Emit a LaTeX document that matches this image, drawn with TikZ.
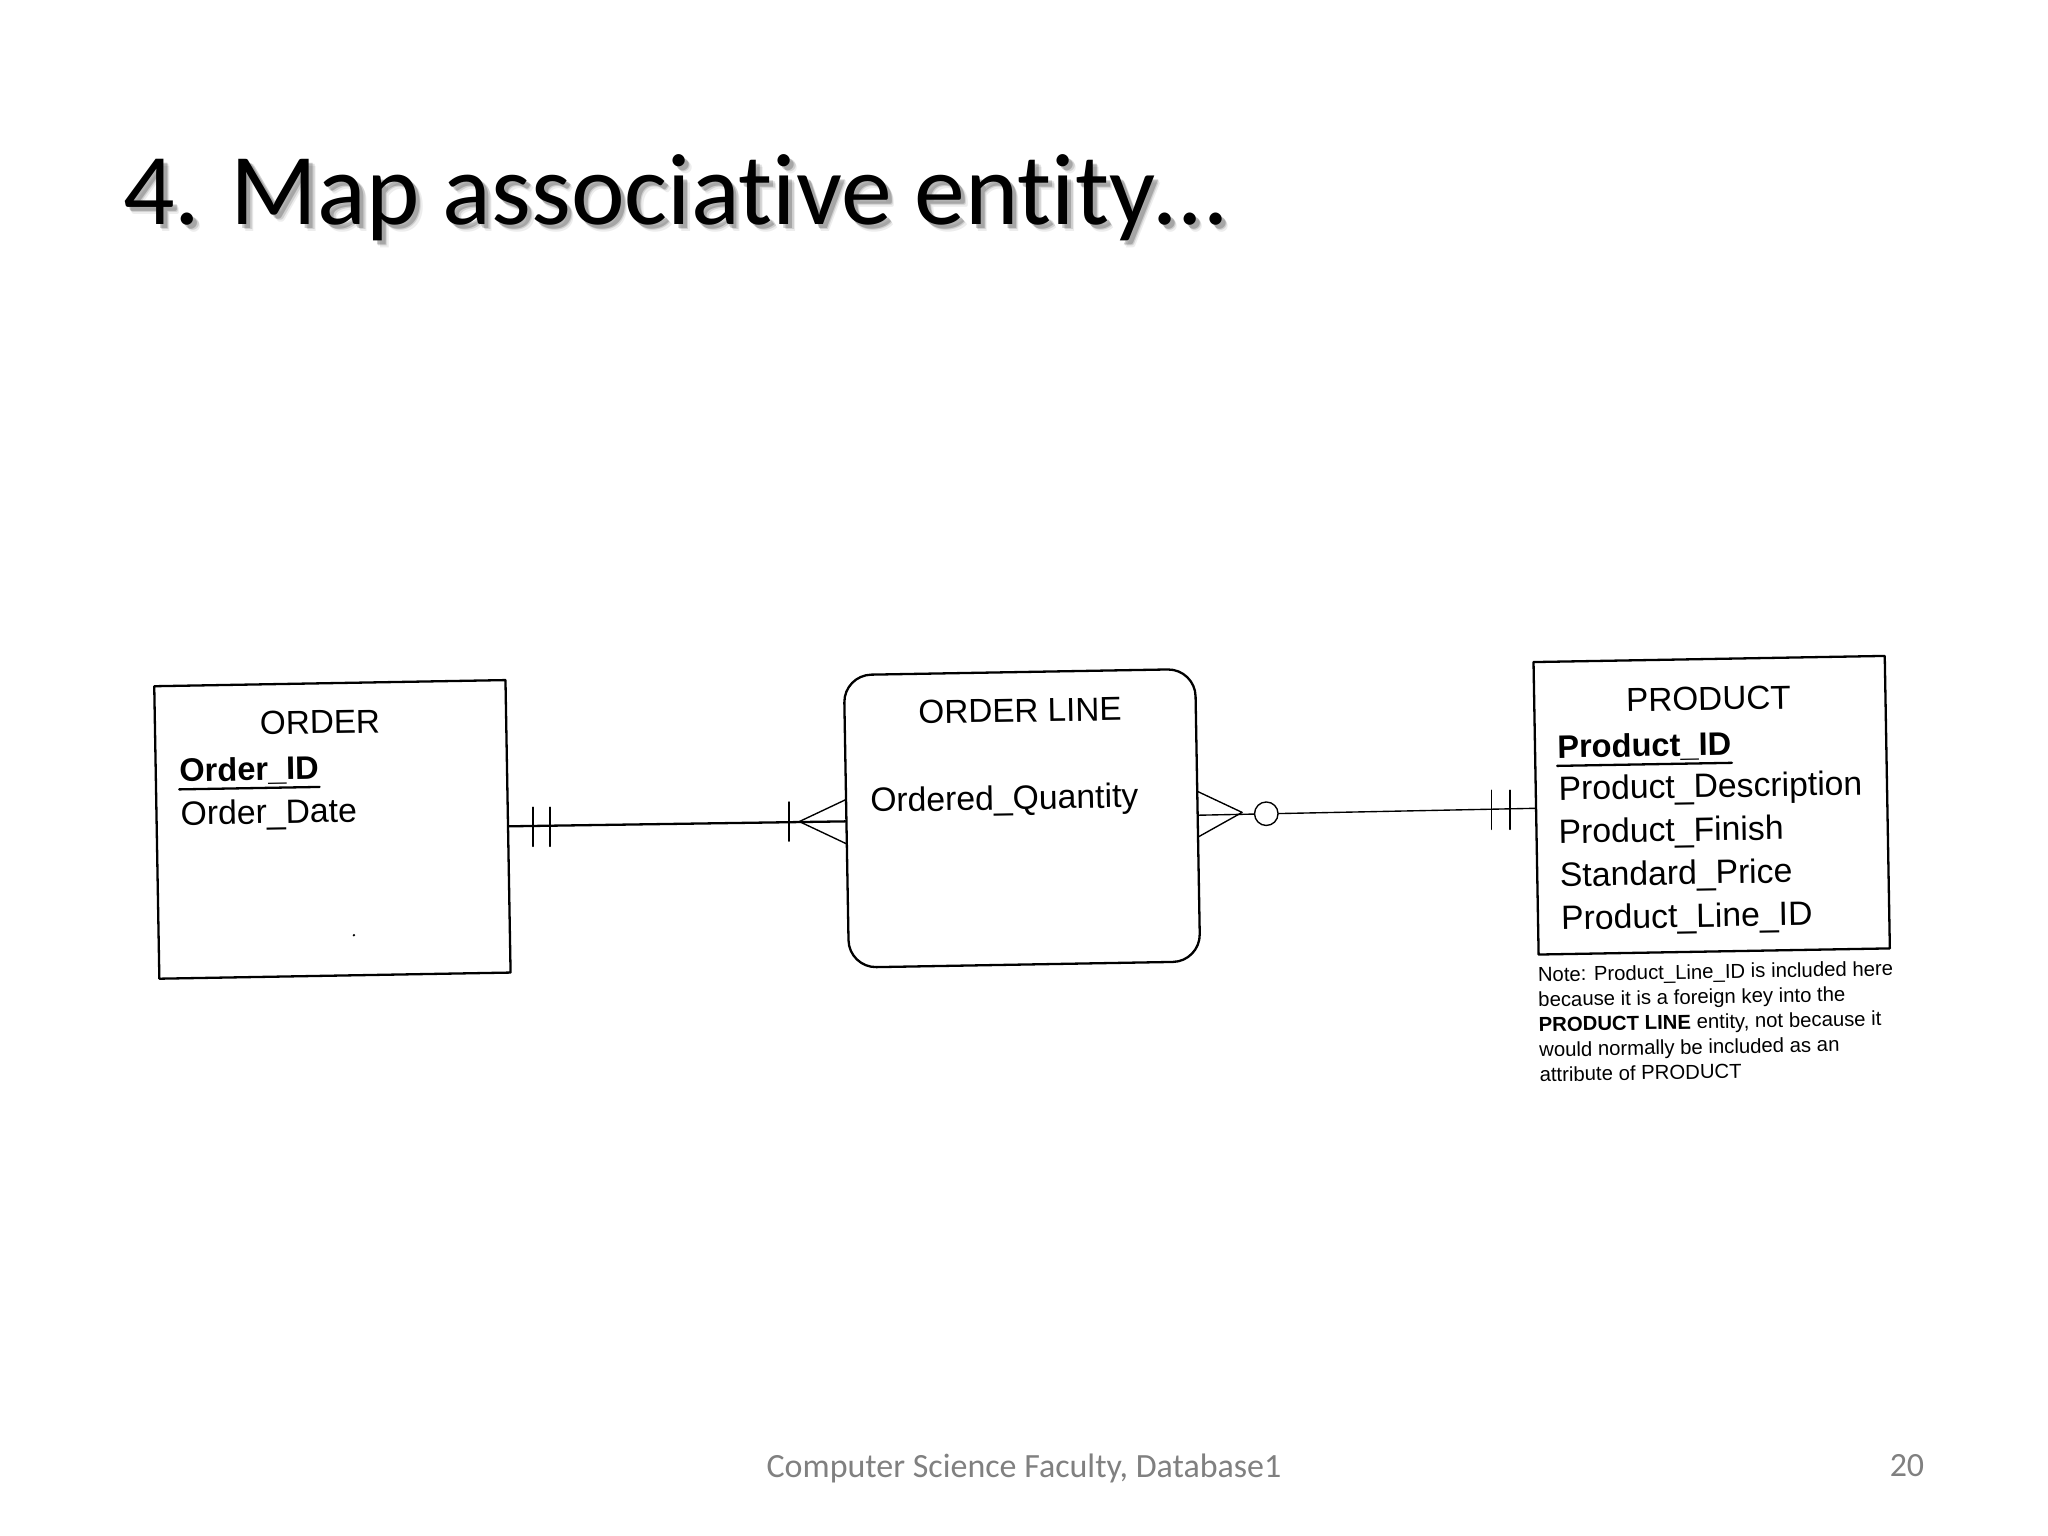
\documentclass[tikz,border=0pt]{standalone}
\usepackage{fontspec}
\setmainfont{Liberation Sans}
\newfontfamily\titlefont[Ligatures=NoCommon]{Carlito}
\begin{document}
\begin{tikzpicture}[x=0.02cm, y=-0.02cm, line join=round, line cap=round, font=\fontsize{14.5}{17}\selectfont,
		entity/.style={draw, line width=1pt, minimum width=5.38cm, minimum height=4.48cm, inner sep=0pt, rotate=1},
		attr/.style={anchor=west, inner xsep=0pt, inner ysep=1.4pt, rotate=1, font=\fontsize{14.7}{17}\selectfont},
		conn/.style={line width=1pt},
		thin conn/.style={line width=0.6pt}]
	\useasboundingbox (0,0) rectangle (1568,1176);
	% title with its soft shadow
	\foreach \sx/\sy/\so in {5/5/0.07, 4/4/0.12, 3/3/0.2}
		\node[anchor=base west, inner sep=0pt, text=black, opacity=\so, font=\titlefont\fontsize{44.3}{50}\selectfont] (shadow\sx) at (94+\sx,172+\sy) {4. Map associative entity…};
	\node[anchor=base west, inner sep=0pt, font=\titlefont\fontsize{44.3}{50}\selectfont] (title) at (94,172) {4. Map associative entity…};
	% entities
	\node[entity] (order) at (254.5,635) {};
	\node[entity, rounded corners=0.42cm] (orderline) at (782.5,626.5) {};
	\node[entity] (product) at (1310.5,616.5) {};
	% ORDER
	\node[rotate=1] (ordername) at (245,553) {ORDER};
	\node[attr, font=\fontsize{14.2}{17}\bfseries] (orderid) at (137,591) {Order\_ID};
	\node[attr] (orderdate) at (138,625) {Order\_Date};
	\draw[conn] (orderid.south west) -- (orderid.south east);
	\fill (271,716) circle (1);
	% ORDER LINE
	\node[rotate=1] (linename) at (781,544) {ORDER LINE};
	\node[attr] (quantity) at (666,615) {Ordered\_Quantity};
	% PRODUCT
	\node[rotate=1] (productname) at (1308,535) {PRODUCT};
	\node[attr, font=\fontsize{14.2}{17}\bfseries] (productid) at (1192,573) {Product\_ID};
	\node[attr] (description) at (1193,606) {Product\_Description};
	\node[attr] (finish) at (1193,639) {Product\_Finish};
	\node[attr] (price) at (1194,672) {Standard\_Price};
	\node[attr] (lineid) at (1195,705) {Product\_Line\_ID};
	\draw[conn] (productid.south west) -- (productid.south east);
	\node[anchor=north west, inner sep=0pt, rotate=1, align=left, font=\fontsize{8.85}{10.9}\selectfont] (note) at (1177,740) {Note: Product\_Line\_ID is included here\\because it is a foreign key into the\\\textbf{PRODUCT LINE} entity, not because it\\would normally be included as an\\attribute of PRODUCT};
	% connectors
	\draw[conn] (order.east) -- (orderline.west);
	\draw[thin conn] (orderline.east) -- (product.west);
	% ticks
	\foreach \tx/\ty in {408/633, 421/633, 604/629, 1142/620, 1156/620}
		\draw[thin conn] (\tx,\ty-15) -- (\tx,\ty+15);
	% crow feet
	\coordinate (crowleft) at (612,629);
	\coordinate (crowright) at (951,622);
	\draw[thin conn] (648,612) -- (crowleft) -- (648,646);
	\draw[thin conn] (917,606) -- (crowright) -- (917,641);
	\node[draw, circle, fill=white, line width=0.6pt, minimum size=0.36cm, inner sep=0pt] (optional) at (969.5,623) {};
	% footer
	\node[text=black!50, font=\titlefont\fontsize{14.8}{17}\selectfont] (footer) at (784,1124) {Computer Science Faculty, Database1};
	\node[text=black!50, font=\titlefont\fontsize{14.8}{17}\selectfont] (pagenum) at (1460,1122) {20};
\end{tikzpicture}
\end{document}
